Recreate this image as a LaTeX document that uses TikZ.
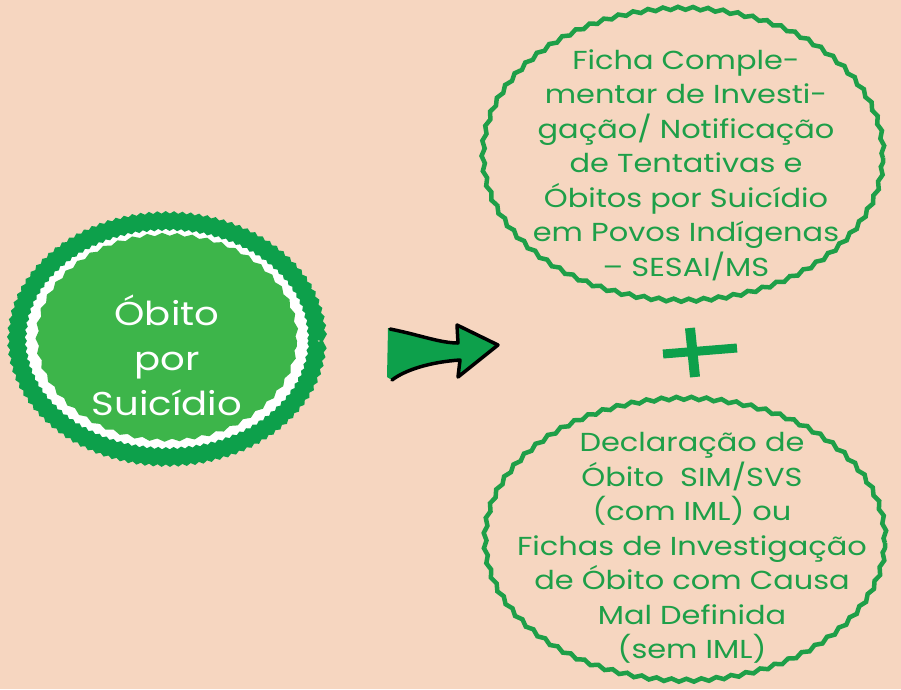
\documentclass[tikz,border=0pt]{standalone}
\usepackage{fontspec}
\setmainfont{Poppins}[FakeStretch=1.17]
\usetikzlibrary{shapes.geometric,decorations.pathmorphing}
\definecolor{peach}{HTML}{F6D6C0}
\definecolor{darkgreen}{HTML}{0DA04B}
\definecolor{lightgreen}{HTML}{3DB54A}
\definecolor{textgreen}{HTML}{1E9F48}
\tikzset{
  wavy/.style={decorate, decoration={snake, amplitude=1.5pt, segment length=15pt}},
  doc oval/.style={ellipse, wavy, draw=textgreen, line width=4.5pt, inner sep=0pt},
  doc text/.style={align=center, text=textgreen, font=\fontsize{26}{34.5}\selectfont},
}

\begin{document}
\begin{tikzpicture}[x=1pt, y=-1pt]

	\fill[peach] (0,0) rectangle (901,689);
	\useasboundingbox (0,0) rectangle (901,689);

	% left circle
	\node [ellipse, decorate, decoration={snake, amplitude=1.2pt, segment length=8pt},
	  fill=white, draw=darkgreen, line width=15pt,
	  minimum width=300pt, minimum height=236pt] (ring) at (167,341) {};
	\node [ellipse, wavy, fill=lightgreen, minimum width=260pt,
	  minimum height=206pt] (obito) at (167,341) {};
	\node [align=center, text=white, font=\fontsize{33}{45}\selectfont]
	  (obito-text) at (167,355) {Óbito\\por\\Suicídio};

	% arrow
	\fill [darkgreen] (388,328) .. controls (420,335) and (440,343) .. (458,343)
	  -- (457,325) -- (498,345) -- (458,377) -- (460,360)
	  .. controls (430,362) and (405,370) .. (392,380) -- (387,377) -- cycle;
	\draw [black, line width=3.5pt, line join=round, line cap=round]
	  (390,329) .. controls (420,335) and (440,343) .. (458,343)
	  -- (457,325) -- (498,345) -- (458,377) -- (460,360)
	  .. controls (430,362) and (405,370) .. (392,380);

	% plus
	\draw [darkgreen, line width=10pt] (690,328) -- (695,377);
	\draw [darkgreen, line width=9pt] (663,354) -- (737,348);

	% right ovals
	\node [doc oval, minimum width=400pt, minimum height=292pt] (ficha) at (683,158) {};
	\node [doc text] (ficha-text) at (686,165)
	  {Ficha Comple-\\mentar de Investi-\\gação/ Notificação\\de Tentativas e\\Óbitos por Suicídio\\em Povos Indígenas\\– SESAI/MS};

	\node [doc oval, minimum width=400pt, minimum height=282pt] (declaracao) at (685,543) {};
	\node [doc text] (declaracao-text) at (692,548)
	  {Declaração de\\Óbito\ \ SIM/SVS\\(com IML) ou\\Fichas de Investigação\\de Óbito com Causa\\Mal Definida\\(sem IML)};

\end{tikzpicture}
\end{document}
